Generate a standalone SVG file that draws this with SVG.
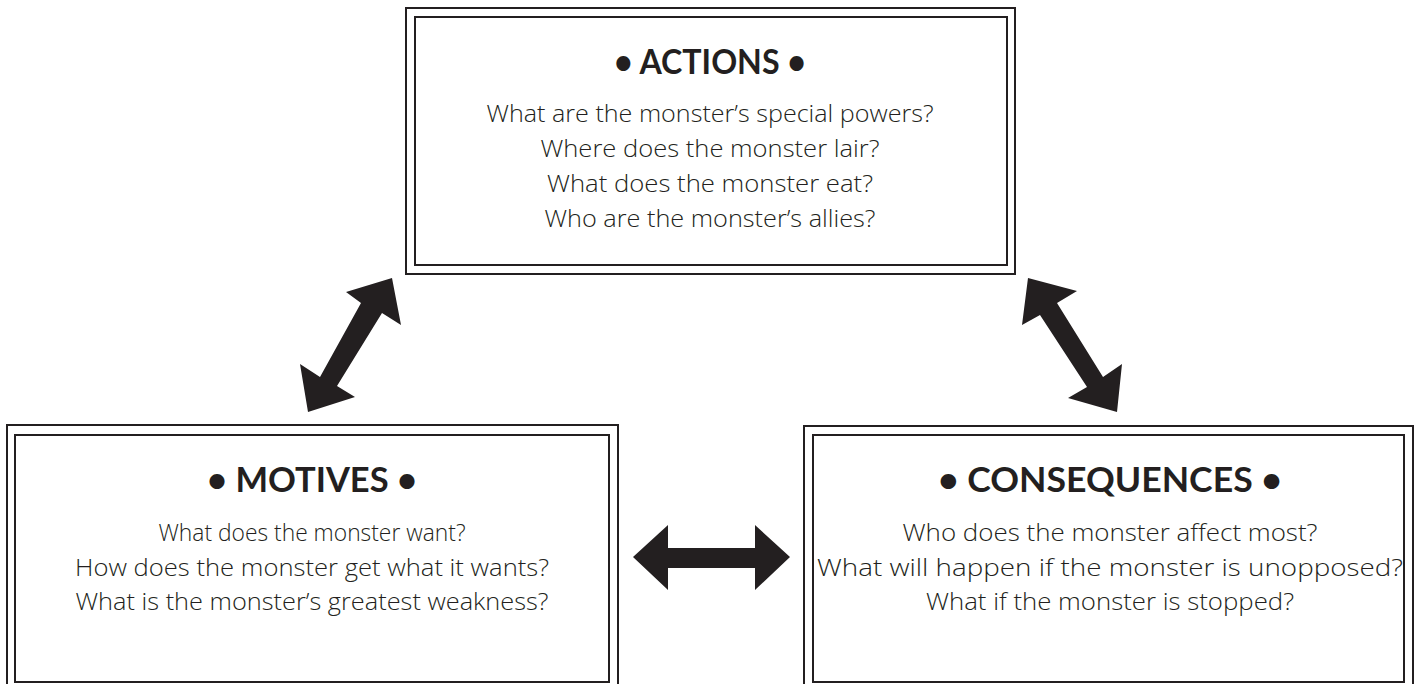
<svg xmlns="http://www.w3.org/2000/svg" width="1421" height="684" viewBox="0 0 1421 684">
<style>
.frame{fill:none;stroke:#231f20;stroke-width:2}
.title{font-family:Lato,"Open Sans",sans-serif;font-weight:700;font-size:34px;fill:#231f20;text-anchor:middle}
.body{font-family:"Open Sans",Lato,sans-serif;font-weight:350;font-size:23px;fill:#231f20;text-anchor:middle}
.arrow{fill:#231f20}
</style>
<rect width="1421" height="684" fill="#fff"/>
<g id="actions">
<rect class="frame" x="406" y="8" width="609" height="266"/>
<rect class="frame" x="415" y="17" width="592" height="248"/>
<text class="title" x="710" y="74" textLength="192" lengthAdjust="spacingAndGlyphs">• ACTIONS •</text>
<text class="body" x="710" y="122" textLength="447" lengthAdjust="spacingAndGlyphs">What are the monster’s special powers?</text>
<text class="body" x="710" y="157" textLength="339" lengthAdjust="spacingAndGlyphs">Where does the monster lair?</text>
<text class="body" x="710" y="192" textLength="326" lengthAdjust="spacingAndGlyphs">What does the monster eat?</text>
<text class="body" x="710" y="227" textLength="331" lengthAdjust="spacingAndGlyphs">Who are the monster’s allies?</text>
</g>
<g id="motives">
<rect class="frame" x="7" y="425" width="611" height="270"/>
<rect class="frame" x="15" y="435" width="594" height="247"/>
<text class="title" x="312" y="492" textLength="210" lengthAdjust="spacingAndGlyphs">• MOTIVES •</text>
<text class="body" x="312" y="541" textLength="307" lengthAdjust="spacingAndGlyphs">What does the monster want?</text>
<text class="body" x="312" y="576" textLength="474" lengthAdjust="spacingAndGlyphs">How does the monster get what it wants?</text>
<text class="body" x="312" y="610" textLength="473" lengthAdjust="spacingAndGlyphs">What is the monster’s greatest weakness?</text>
</g>
<g id="consequences">
<rect class="frame" x="804" y="426" width="609" height="270"/>
<rect class="frame" x="813" y="435" width="591" height="247"/>
<text class="title" x="1110" y="492" textLength="344" lengthAdjust="spacingAndGlyphs">• CONSEQUENCES •</text>
<text class="body" x="1110" y="541" textLength="415" lengthAdjust="spacingAndGlyphs">Who does the monster affect most?</text>
<text class="body" x="1110" y="576" textLength="586" lengthAdjust="spacingAndGlyphs">What will happen if the monster is unopposed?</text>
<text class="body" x="1110" y="610" textLength="368" lengthAdjust="spacingAndGlyphs">What if the monster is stopped?</text>
</g>
<g id="connectors">
<polygon class="arrow" points="392,278 346,292 361,303 320,377 300,364 308,412 355,397 337,386 382,313 401,325"/>
<polygon class="arrow" points="1028,278 1022,325 1040,315 1087,387 1068,398 1117,412 1122,364 1103,377 1057,303 1077,291"/>
<polygon class="arrow" points="633,557 668,525 668,548 755,548 755,525 790,557 755,590 755,568 668,568 668,590"/>
</g>
</svg>
